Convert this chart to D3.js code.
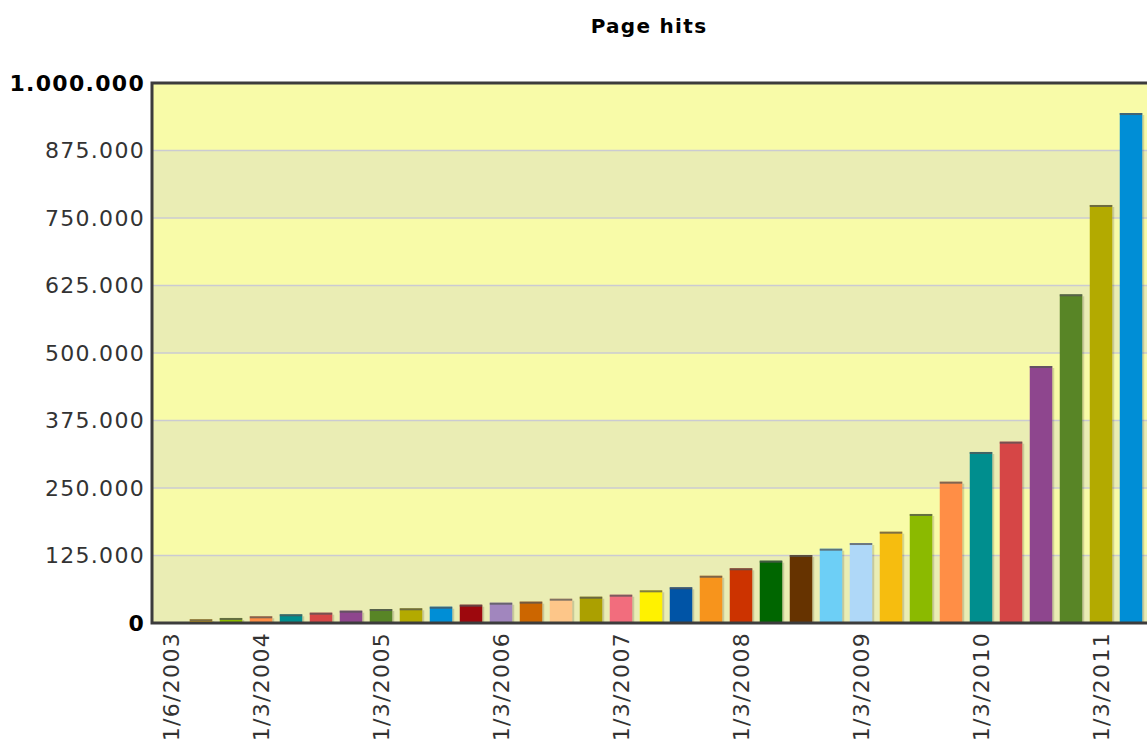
<!DOCTYPE html>
<html>
<head>
<meta charset="utf-8">
<script src="https://cdn.jsdelivr.net/npm/d3@7"></script>
<style>
  html, body { margin: 0; padding: 0; background: #ffffff; }
  svg { display: block; }
  text { font-family: "DejaVu Sans", Verdana, sans-serif; }
</style>
</head>
<body>
<svg id="chart" width="1147" height="740"></svg>
<script>
// ---- data ----
const dates = [
  "1/6/2003","1/9/2003","1/12/2003",
  "1/3/2004","1/6/2004","1/9/2004","1/12/2004",
  "1/3/2005","1/6/2005","1/9/2005","1/12/2005",
  "1/3/2006","1/6/2006","1/9/2006","1/12/2006",
  "1/3/2007","1/6/2007","1/9/2007","1/12/2007",
  "1/3/2008","1/6/2008","1/9/2008","1/12/2008",
  "1/3/2009","1/6/2009","1/9/2009","1/12/2009",
  "1/3/2010","1/6/2010","1/9/2010","1/12/2010",
  "1/3/2011","1/6/2011"
];
const hits = [
  0, 7000, 9300,
  12400, 16100, 19100, 22800,
  25900, 27200, 30200, 33900,
  37600, 39500, 45000, 48700,
  52400, 60500, 66100, 87500,
  101300, 115400, 125900, 137600,
  148100, 169100, 201900, 261700,
  316700, 335800, 475900, 608700,
  774100, 944400
];
const palette = [
  "#AFD8F8","#F6BD0F","#8BBA00","#FF8E46","#008E8E","#D64646","#8E468E","#588526",
  "#B3AA00","#008ED6","#9D080D","#A186BE","#CC6600","#FDC689","#ABA000","#F26D7D",
  "#FFF200","#0054A6","#F7941C","#CC3300","#006600","#663300","#6DCFF6"
];
const xTickLabels = ["1/6/2003","1/3/2004","1/3/2005","1/3/2006","1/3/2007","1/3/2008","1/3/2009","1/3/2010","1/3/2011"];
const yTicks = [0, 125000, 250000, 375000, 500000, 625000, 750000, 875000, 1000000];
const title = "Page hits";

// ---- layout ----
const svg = d3.select("#chart");
const plot = { left: 152, top: 83, right: 1156, bottom: 623 };

const x = d3.scaleBand()
  .domain(dates)
  .range([156, 1146])
  .paddingInner(0.25)
  .paddingOuter(0.125);

const y = d3.scaleLinear()
  .domain([0, 1000000])
  .range([plot.bottom, plot.top]);

const fmt = v => d3.format(",")(v).replace(/,/g, ".");

// title
svg.append("text")
  .attr("x", 649).attr("y", 33)
  .attr("text-anchor", "middle")
  .attr("font-size", 20).attr("font-weight", "bold")
  .attr("letter-spacing", 1.3)
  .attr("fill", "#000")
  .text(title);

// alternating background bands
const bands = d3.pairs(yTicks);
svg.append("g").selectAll("rect")
  .data(bands)
  .join("rect")
  .attr("x", plot.left)
  .attr("width", plot.right - plot.left)
  .attr("y", d => y(d[1]))
  .attr("height", d => y(d[0]) - y(d[1]))
  .attr("fill", (d, i) => i % 2 === 0 ? "#eaedb4" : "#f8fba8");

// gridlines
svg.append("g").selectAll("line")
  .data(yTicks.slice(1, -1))
  .join("line")
  .attr("x1", plot.left).attr("x2", plot.right)
  .attr("y1", d => y(d)).attr("y2", d => y(d))
  .attr("stroke", "#cbcbd2").attr("stroke-width", 1.6);

// bars
const barData = dates.map((d, i) => ({ date: d, value: hits[i], color: palette[i % palette.length] }));
const bars = svg.append("g");
// shadow
bars.selectAll("rect.shadow")
  .data(barData.filter(d => d.value > 0))
  .join("rect")
  .attr("class", "shadow")
  .attr("x", d => x(d.date) + 2)
  .attr("y", d => y(d.value) + 2)
  .attr("width", x.bandwidth())
  .attr("height", d => y(0) - y(d.value) - 2)
  .attr("fill", "#000").attr("opacity", 0.15);
bars.selectAll("rect.bar")
  .data(barData)
  .join("rect")
  .attr("class", "bar")
  .attr("x", d => x(d.date))
  .attr("y", d => y(d.value))
  .attr("width", x.bandwidth())
  .attr("height", d => y(0) - y(d.value))
  .attr("fill", d => d.color);
// dark top cap
bars.selectAll("rect.cap")
  .data(barData.filter(d => d.value > 0))
  .join("rect")
  .attr("class", "cap")
  .attr("x", d => x(d.date))
  .attr("y", d => y(d.value))
  .attr("width", x.bandwidth())
  .attr("height", 2)
  .attr("fill", "#555").attr("opacity", 0.75);

// plot border (left, top, bottom)
svg.append("path")
  .attr("d", `M${plot.right},${plot.top} L${plot.left},${plot.top} L${plot.left},${plot.bottom} L${plot.right},${plot.bottom}`)
  .attr("fill", "none")
  .attr("stroke", "#3c3c3c")
  .attr("stroke-width", 3);

// y axis labels
const yAxis = d3.axisLeft(y).tickValues(yTicks).tickSize(0).tickPadding(6).tickFormat(fmt);
const gy = svg.append("g").attr("transform", `translate(${plot.left - 1},0)`).call(yAxis);
gy.select(".domain").remove();
gy.selectAll("text")
  .attr("font-family", "DejaVu Sans, Verdana, sans-serif")
  .attr("font-size", 22)
  .attr("letter-spacing", 1.3)
  .attr("fill", "#222")
  .attr("font-weight", d => (d === 0 || d === 1000000) ? "bold" : "normal")
  .attr("fill", d => (d === 0 || d === 1000000) ? "#000" : "#333");

// x axis labels
const xAxis = d3.axisBottom(x).tickValues(xTickLabels).tickSize(0).tickPadding(0);
const gx = svg.append("g").attr("transform", `translate(0,${plot.bottom})`).call(xAxis);
gx.select(".domain").remove();
gx.selectAll("text")
  .attr("font-family", "DejaVu Sans, Verdana, sans-serif")
  .attr("font-size", 22)
  .attr("letter-spacing", 1.3)
  .attr("fill", "#333")
  .attr("text-anchor", "end")
  .attr("transform", "rotate(-90)")
  .attr("x", -9)
  .attr("y", 0)
  .attr("dy", "0.36em");
</script>
</body>
</html>
